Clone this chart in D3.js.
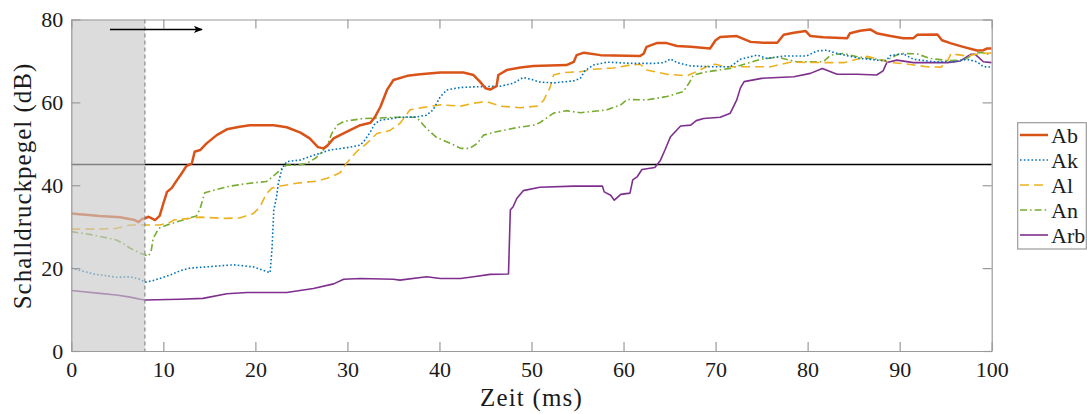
<!DOCTYPE html>
<html><head><meta charset="utf-8">
<script src="https://cdn.jsdelivr.net/npm/d3@7"></script>
<style>
html,body{margin:0;padding:0;background:#fff;}
svg{display:block;}
svg text{font-family:"Liberation Serif","DejaVu Serif","Noto Serif",serif !important;fill:#1a1a1a;}
</style></head>
<body>
<svg id="chart" width="1087" height="414"></svg>
<script>
// ---- data (time in ms, level in dB) ----
const seriesNames = ["Ab","Ak","Al","An","Arb"];
const xTicks = [0,10,20,30,40,50,60,70,80,90,100];
const yTicks = [0,20,40,60,80];
const threshold = 45;
const shadeEnd = 8;
const arrowFrom = [4.2, 77.6];
const arrowTo = [14.2, 77.6];

const ab = [[0,33.2],[3.1,32.6],[5.3,32.3],[6.9,31.6],[7.3,31.1],[7.7,31.9],[8.0,32.0],[8.4,32.4],[9.1,31.6],[9.6,32.6],[10.0,35.6],[10.4,38.4],[10.9,39.3],[11.5,41.3],[12.0,42.9],[12.5,44.6],[13.1,45.3],[13.4,48.1],[14.0,48.5],[14.7,50.1],[15.8,52.1],[16.9,53.5],[18.3,54.1],[19.4,54.5],[22.0,54.5],[23.4,54.0],[24.9,52.7],[25.9,51.3],[26.8,49.2],[27.4,48.9],[27.8,49.5],[28.5,51.3],[29.9,52.9],[31.4,54.5],[32.5,55.1],[33.0,56.5],[33.6,59.0],[34.3,63.0],[35.0,65.4],[36.5,66.4],[37.9,66.8],[40.1,67.2],[42.6,67.2],[43.7,66.6],[44.4,65.0],[45.0,63.4],[45.5,63.1],[46.2,63.9],[46.4,66.6],[47.3,67.8],[48.8,68.4],[50.2,68.8],[53.8,69.0],[54.6,69.8],[54.9,71.4],[55.7,72.0],[57.5,71.4],[61.8,71.2],[62.2,71.8],[62.5,73.4],[63.6,74.3],[64.7,74.3],[65.8,73.6],[67.3,73.4],[69.4,73.0],[70.0,75.0],[70.5,75.8],[72.3,76.0],[73.8,74.6],[75.2,74.4],[76.7,74.4],[77.4,76.3],[78.5,76.8],[79.8,77.2],[80.3,76.0],[81.7,75.7],[84.3,75.5],[84.6,76.7],[85.7,77.3],[86.8,77.6],[87.5,76.7],[89.0,76.0],[90.4,75.5],[91.5,75.5],[91.9,76.3],[94.1,76.4],[94.6,75.0],[95.5,74.3],[96.9,73.4],[98.4,72.5],[99.1,72.6],[99.5,73.0],[100,73.0]];

const ak = [[0,20.0],[2.4,18.6],[4.9,17.8],[6.4,17.9],[7.5,17.3],[8.0,16.6],[8.9,17.0],[10.7,18.3],[12.0,19.5],[12.9,20.0],[14.7,20.3],[17.6,20.8],[19.8,20.3],[21.6,18.9],[21.8,24.4],[22.0,34.0],[22.3,37.2],[22.5,40.5],[22.9,44.1],[23.4,45.7],[24.9,46.1],[26.3,47.2],[28.1,48.5],[30.3,49.2],[31.4,49.7],[31.9,50.9],[32.5,52.9],[33.0,54.9],[33.6,55.7],[35.7,56.4],[37.5,56.5],[38.6,56.9],[39.3,58.2],[40.1,61.4],[40.8,63.0],[42.3,63.6],[44.4,63.8],[46.6,63.9],[48.0,64.6],[49.1,66.0],[49.9,65.6],[50.9,64.9],[52.4,64.7],[54.6,65.2],[55.3,65.8],[55.8,67.6],[56.7,69.0],[58.2,69.7],[61.1,69.4],[63.3,69.4],[64.4,69.6],[65.1,70.5],[65.8,69.6],[67.3,68.8],[69.4,68.6],[71.6,68.6],[72.7,70.4],[74.5,71.4],[75.6,70.6],[77.4,71.2],[79.9,71.2],[81.0,72.4],[82.1,72.6],[83.2,71.8],[85.7,70.6],[88.5,70.0],[89.0,71.3],[90.4,71.7],[91.5,70.4],[93.7,69.8],[95.9,69.8],[97.3,70.4],[98.4,69.8],[99.1,68.6],[100,68.5]];

const al = [[0,29.4],[2.4,29.4],[4.9,29.6],[6.4,30.4],[8.0,30.4],[9.6,30.4],[10.7,31.0],[11.1,31.6],[14.0,32.3],[16.5,32.0],[18.3,32.1],[19.8,33.2],[20.5,34.8],[21.2,38.0],[21.8,39.3],[22.7,39.8],[24.5,40.5],[26.7,41.0],[27.8,41.7],[28.5,42.3],[29.2,43.0],[29.9,45.3],[31.0,48.1],[32.1,50.1],[33.2,52.5],[34.6,53.2],[35.7,54.9],[36.8,58.2],[38.3,58.8],[40.1,59.4],[42.3,59.1],[43.7,59.8],[45.1,60.2],[46.6,59.1],[48.8,58.7],[50.6,59.1],[51.3,60.4],[52.0,63.5],[52.4,66.6],[53.4,67.2],[55.3,67.4],[56.7,68.0],[58.9,68.3],[60.7,69.0],[61.8,69.2],[62.5,67.8],[64.7,66.8],[66.9,66.4],[68.3,67.8],[69.4,69.0],[70.0,69.2],[71.0,68.6],[73.8,68.6],[76.0,68.6],[78.1,69.7],[81.7,69.6],[84.0,69.6],[86.5,71.1],[89.0,69.6],[90.7,69.3],[92.9,68.6],[94.5,68.5],[95.2,70.0],[95.6,71.8],[96.0,71.6],[97.3,71.2],[98.8,71.8],[100,71.9]];

const an = [[0,28.8],[2.4,28.0],[4.9,26.8],[5.6,26.0],[6.4,24.8],[7.5,23.6],[8.4,22.9],[8.7,24.4],[8.9,27.2],[9.5,29.6],[10.4,30.4],[11.5,31.2],[13.6,32.6],[14.0,34.4],[14.5,38.2],[15.8,39.0],[17.3,39.8],[19.4,40.5],[21.2,40.9],[21.9,42.1],[22.7,43.7],[23.4,44.9],[24.5,44.8],[25.6,45.3],[26.5,46.5],[27.0,47.5],[27.8,49.7],[28.3,52.5],[28.9,54.5],[29.6,55.4],[31.7,56.1],[35.4,56.4],[37.5,56.4],[38.6,53.7],[39.7,51.5],[41.2,50.1],[42.3,48.9],[43.3,48.9],[44.1,50.1],[44.8,52.1],[46.2,52.9],[48.4,53.9],[50.2,54.5],[50.9,55.1],[52.4,57.4],[53.8,58.0],[55.3,57.5],[58.2,58.2],[59.7,59.4],[60.4,60.7],[62.5,60.6],[64.7,61.4],[66.5,62.6],[67.1,64.6],[67.6,66.6],[69.1,67.4],[71.6,68.2],[74.9,70.4],[76.7,70.9],[78.8,69.8],[81.7,69.8],[82.5,71.4],[83.9,71.8],[85.4,71.0],[88.5,70.1],[89.3,71.0],[90.0,71.8],[91.9,71.7],[93.3,70.6],[95.2,70.1],[96.9,70.2],[98.4,72.0],[99.1,72.0],[100,71.4]];

const arb = [[0,14.6],[3.1,13.9],[4.9,13.5],[6.4,13.0],[7.5,12.5],[8.0,12.3],[11.8,12.5],[14.3,12.7],[16.9,13.8],[19.1,14.1],[23.4,14.1],[26.3,15.1],[28.5,16.2],[29.6,17.3],[31.4,17.5],[35.0,17.3],[35.7,17.1],[38.6,17.9],[40.1,17.5],[42.3,17.5],[43.7,17.9],[45.5,18.5],[47.5,18.6],[47.7,34.0],[48.0,34.8],[48.4,36.8],[49.1,38.7],[50.9,39.5],[54.6,39.8],[57.7,39.8],[57.9,38.4],[58.6,37.6],[59.0,36.4],[59.7,37.8],[60.7,38.1],[61.0,41.3],[61.5,42.1],[62.0,43.8],[63.4,44.3],[64.0,46.0],[64.5,48.5],[65.1,51.7],[66.2,54.3],[67.3,54.5],[67.9,55.6],[68.7,56.1],[70.5,56.4],[71.6,57.4],[72.3,60.6],[72.7,63.5],[73.1,65.0],[75.0,65.8],[78.5,66.2],[80.3,67.0],[81.6,68.2],[82.5,67.4],[83.2,66.8],[85.4,66.8],[87.5,66.6],[88.2,67.6],[88.6,69.6],[89.7,70.2],[91.5,69.6],[95.2,69.6],[96.6,70.0],[97.7,71.6],[98.2,71.6],[99.1,69.8],[100,69.6]];

const seriesData = [ab, ak, al, an, arb];
const seriesColors = ["#D95319","#0072BD","#EDB120","#77AC30","#7E2F8E"];
const seriesDash = [null,"1.6,2.2","9,5","7,3,1.6,3",null];
const seriesWidth = [2.5,1.6,1.6,1.6,1.6];

// ---- layout ----
const svg = d3.select("#chart");
const L = 71.3, R = 991.7, T = 19.5, B = 351;
const x = d3.scaleLinear().domain([0,100]).range([L,R]);
const y = d3.scaleLinear().domain([0,80]).range([B,T]);
const axisCol = "#9a9a9a";
const FONT = "'Liberation Serif','DejaVu Serif','Noto Serif',serif";

svg.append("defs").append("clipPath").attr("id","clip")
  .append("rect").attr("x",L).attr("y",T).attr("width",R-L).attr("height",B-T);

// threshold line
svg.append("line").attr("x1",x(0)).attr("x2",x(100)).attr("y1",y(threshold)).attr("y2",y(threshold))
  .attr("stroke","#000").attr("stroke-width",1.6);

// series
const line = d3.line().x(d=>x(d[0])).y(d=>y(d[1]));
const drawOrder = [4,3,2,1,0];
const g = svg.append("g").attr("clip-path","url(#clip)");
drawOrder.forEach(i=>{
  g.append("path").datum(seriesData[i]).attr("d",line)
    .attr("fill","none").attr("stroke",seriesColors[i])
    .attr("stroke-width",seriesWidth[i])
    .attr("stroke-linejoin","round")
    .attr("stroke-dasharray",seriesDash[i]);
});

// shaded region overlay
svg.append("rect").attr("x",x(0)).attr("y",y(80)).attr("width",x(shadeEnd)-x(0)).attr("height",y(0)-y(80))
  .attr("fill","rgb(200,200,200)").attr("fill-opacity",0.64);
svg.append("line").attr("x1",x(shadeEnd)).attr("x2",x(shadeEnd)).attr("y1",y(80)).attr("y2",y(0))
  .attr("stroke","#777").attr("stroke-width",1).attr("stroke-dasharray","4,3");

// axes
function styleAxis(sel){
  sel.attr("font-family",FONT).attr("font-size",22);
  sel.selectAll("path.domain").attr("stroke",axisCol).attr("stroke-width",1.2);
  sel.selectAll(".tick line").attr("stroke",axisCol).attr("stroke-width",1.2);
  sel.selectAll(".tick text").attr("fill","#1a1a1a");
}
svg.append("g").attr("transform",`translate(0,${B})`)
  .call(d3.axisBottom(x).tickValues(xTicks).tickSize(-9).tickSizeOuter(0).tickPadding(10).tickFormat(d3.format("d")))
  .call(styleAxis);
svg.append("g").attr("transform",`translate(0,${T})`)
  .call(d3.axisTop(x).tickValues(xTicks).tickSize(-9).tickSizeOuter(0).tickFormat(""))
  .call(styleAxis);
svg.append("g").attr("transform",`translate(${L},0)`)
  .call(d3.axisLeft(y).tickValues(yTicks).tickSize(-9).tickSizeOuter(0).tickPadding(8).tickFormat(d3.format("d")))
  .call(styleAxis);
svg.append("g").attr("transform",`translate(${R},0)`)
  .call(d3.axisRight(y).tickValues(yTicks).tickSize(-9).tickSizeOuter(0).tickFormat(""))
  .call(styleAxis);

// arrow
svg.append("defs").append("marker").attr("id","ah").attr("viewBox","0 0 10 10")
  .attr("refX",9).attr("refY",5).attr("markerWidth",11).attr("markerHeight",9)
  .attr("markerUnits","userSpaceOnUse").attr("orient","auto")
  .append("path").attr("d","M0,1 L10,5 L0,9 L2.5,5 Z").attr("fill","#000");
svg.append("line").attr("x1",x(arrowFrom[0])).attr("y1",y(arrowFrom[1]))
  .attr("x2",x(arrowTo[0])).attr("y2",y(arrowTo[1]))
  .attr("stroke","#000").attr("stroke-width",1.6).attr("marker-end","url(#ah)");

// axis titles
svg.append("text").attr("x",x(50)).attr("y",406).attr("text-anchor","middle")
  .attr("font-family",FONT).attr("font-size",25).style("letter-spacing","1.2px").text("Zeit (ms)");
svg.append("text").attr("transform",`translate(31,${186}) rotate(-90)`).attr("text-anchor","middle")
  .attr("font-family",FONT).attr("font-size",25).style("letter-spacing","1px").text("Schalldruckpegel (dB)");

// legend
const lg = svg.append("g").attr("font-family",FONT).attr("font-size",22);
lg.append("rect").attr("x",1017.7).attr("y",122.7).attr("width",68.6).attr("height",126.3)
  .attr("fill","#fff").attr("stroke",axisCol).attr("stroke-width",1.2);
seriesNames.forEach((n,i)=>{
  const yy = 135 + i*25;
  lg.append("line").attr("x1",1020).attr("x2",1048).attr("y1",yy).attr("y2",yy)
    .attr("stroke",seriesColors[i]).attr("stroke-width",seriesWidth[i])
    .attr("stroke-dasharray",seriesDash[i]);
  lg.append("text").attr("x",1051).attr("y",yy+7.5).text(n);
});
</script>
</body></html>
